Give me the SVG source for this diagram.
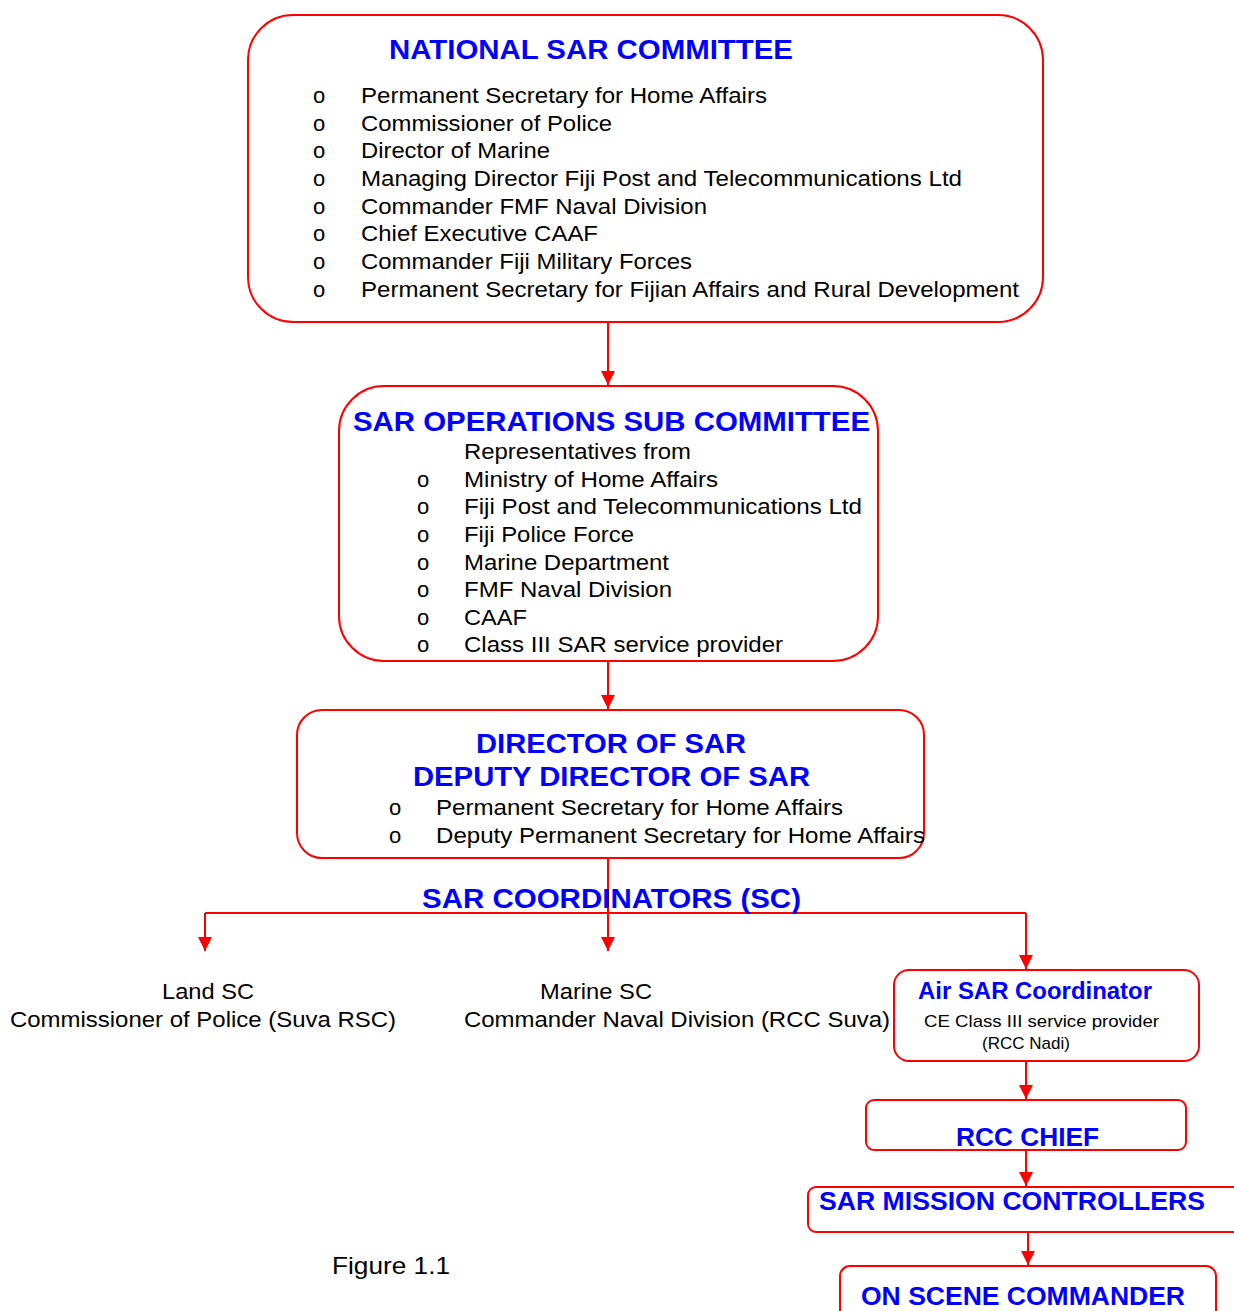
<svg xmlns="http://www.w3.org/2000/svg" width="1234" height="1311" viewBox="0 0 1234 1311">
<style>
.box{fill:#fff;stroke:#ff0000;stroke-width:2}
.ttl{font-family:"Liberation Sans",Arial,sans-serif;font-weight:bold;fill:#0000ff}
.txt{font-family:"Liberation Sans",Arial,sans-serif;fill:#000}
.con{stroke:#ff0000;stroke-width:2;fill:none}
</style>
<defs>
<marker id="ah" markerWidth="14" markerHeight="16" refX="14" refY="8" orient="auto" markerUnits="userSpaceOnUse">
<path d="M0,1 L14,8 L0,15 Z" fill="#ff0000"/>
</marker>
</defs>
<rect width="1234" height="1311" fill="#fff"/>

<g id="connectors">
<line class="con" x1="608" y1="322" x2="608" y2="385" marker-end="url(#ah)"/>
<line class="con" x1="608" y1="661" x2="608" y2="709" marker-end="url(#ah)"/>
<line class="con" x1="608" y1="858" x2="608" y2="913"/>
<line class="con" x1="205" y1="913" x2="1026" y2="913"/>
<line class="con" x1="205" y1="913" x2="205" y2="951" marker-end="url(#ah)"/>
<line class="con" x1="608" y1="913" x2="608" y2="951" marker-end="url(#ah)"/>
<line class="con" x1="1026" y1="913" x2="1026" y2="969" marker-end="url(#ah)"/>
<line class="con" x1="1026" y1="1061" x2="1026" y2="1099" marker-end="url(#ah)"/>
<line class="con" x1="1026" y1="1150" x2="1026" y2="1186" marker-end="url(#ah)"/>
<line class="con" x1="1028" y1="1232" x2="1028" y2="1265" marker-end="url(#ah)"/>
</g>

<g id="national">
<rect class="box" x="248" y="15" width="795" height="307" rx="45"/>
<text class="ttl" x="389" y="59" font-size="27" textLength="404" lengthAdjust="spacingAndGlyphs">NATIONAL SAR COMMITTEE</text>
<g class="txt" font-size="22">
<text x="313" y="103">o</text><text x="361" y="103" textLength="406" lengthAdjust="spacingAndGlyphs">Permanent Secretary for Home Affairs</text>
<text x="313" y="131">o</text><text x="361" y="131" textLength="251" lengthAdjust="spacingAndGlyphs">Commissioner of Police</text>
<text x="313" y="158">o</text><text x="361" y="158" textLength="189" lengthAdjust="spacingAndGlyphs">Director of Marine</text>
<text x="313" y="186">o</text><text x="361" y="186" textLength="601" lengthAdjust="spacingAndGlyphs">Managing Director Fiji Post and Telecommunications Ltd</text>
<text x="313" y="214">o</text><text x="361" y="214" textLength="346" lengthAdjust="spacingAndGlyphs">Commander FMF Naval Division</text>
<text x="313" y="241">o</text><text x="361" y="241" textLength="237" lengthAdjust="spacingAndGlyphs">Chief Executive CAAF</text>
<text x="313" y="269">o</text><text x="361" y="269" textLength="331" lengthAdjust="spacingAndGlyphs">Commander Fiji Military Forces</text>
<text x="313" y="297">o</text><text x="361" y="297" textLength="658" lengthAdjust="spacingAndGlyphs">Permanent Secretary for Fijian Affairs and Rural Development</text>
</g>
</g>

<g id="subcommittee">
<rect class="box" x="339" y="386" width="539" height="275" rx="45"/>
<text class="ttl" x="353" y="431" font-size="28" textLength="517" lengthAdjust="spacingAndGlyphs">SAR OPERATIONS SUB COMMITTEE</text>
<g class="txt" font-size="22">
<text x="464" y="459" textLength="227" lengthAdjust="spacingAndGlyphs">Representatives from</text>
<text x="417" y="487">o</text><text x="464" y="487" textLength="254" lengthAdjust="spacingAndGlyphs">Ministry of Home Affairs</text>
<text x="417" y="514">o</text><text x="464" y="514" textLength="398" lengthAdjust="spacingAndGlyphs">Fiji Post and Telecommunications Ltd</text>
<text x="417" y="542">o</text><text x="464" y="542" textLength="170" lengthAdjust="spacingAndGlyphs">Fiji Police Force</text>
<text x="417" y="570">o</text><text x="464" y="570" textLength="205" lengthAdjust="spacingAndGlyphs">Marine Department</text>
<text x="417" y="597">o</text><text x="464" y="597" textLength="208" lengthAdjust="spacingAndGlyphs">FMF Naval Division</text>
<text x="417" y="625">o</text><text x="464" y="625" textLength="63" lengthAdjust="spacingAndGlyphs">CAAF</text>
<text x="417" y="652">o</text><text x="464" y="652" textLength="319" lengthAdjust="spacingAndGlyphs">Class III SAR service provider</text>
</g>
</g>

<g id="director">
<rect class="box" x="297" y="710" width="627" height="148" rx="25"/>
<text class="ttl" x="476" y="753" font-size="27" textLength="270" lengthAdjust="spacingAndGlyphs">DIRECTOR OF SAR</text>
<text class="ttl" x="413" y="786" font-size="27" textLength="397" lengthAdjust="spacingAndGlyphs">DEPUTY DIRECTOR OF SAR</text>
<g class="txt" font-size="22">
<text x="389" y="815">o</text><text x="436" y="815" textLength="407" lengthAdjust="spacingAndGlyphs">Permanent Secretary for Home Affairs</text>
<text x="389" y="843">o</text><text x="436" y="843" textLength="489" lengthAdjust="spacingAndGlyphs">Deputy Permanent Secretary for Home Affairs</text>
</g>
</g>

<g id="coordinators">
<text class="ttl" x="422" y="908" font-size="27" textLength="379" lengthAdjust="spacingAndGlyphs">SAR COORDINATORS (SC)</text>
</g>

<g id="land-sc" class="txt" font-size="22">
<text x="162" y="999" textLength="92" lengthAdjust="spacingAndGlyphs">Land SC</text>
<text x="10" y="1027" textLength="386" lengthAdjust="spacingAndGlyphs">Commissioner of Police (Suva RSC)</text>
</g>

<g id="marine-sc" class="txt" font-size="22">
<text x="540" y="999" textLength="112" lengthAdjust="spacingAndGlyphs">Marine SC</text>
<text x="464" y="1027" textLength="426" lengthAdjust="spacingAndGlyphs">Commander Naval Division (RCC Suva)</text>
</g>

<g id="air-sc">
<rect class="box" x="894" y="970" width="305" height="91" rx="15"/>
<text class="ttl" x="918" y="999" font-size="23" textLength="234" lengthAdjust="spacingAndGlyphs">Air SAR Coordinator</text>
<text class="txt" x="924" y="1027" font-size="17" textLength="235" lengthAdjust="spacingAndGlyphs">CE Class III service provider</text>
<text class="txt" x="1026" y="1049" font-size="17" text-anchor="middle">(RCC Nadi)</text>
</g>

<g id="rcc-chief">
<rect class="box" x="866" y="1100" width="320" height="50" rx="8"/>
<text class="ttl" x="956" y="1146" font-size="25" textLength="143" lengthAdjust="spacingAndGlyphs">RCC CHIEF</text>
</g>

<g id="mission-controllers">
<rect class="box" x="808" y="1187" width="440" height="45" rx="8"/>
<text class="ttl" x="819" y="1210" font-size="25" textLength="386" lengthAdjust="spacingAndGlyphs">SAR MISSION CONTROLLERS</text>
</g>

<g id="on-scene">
<rect class="box" x="840" y="1266" width="376" height="70" rx="10"/>
<text class="ttl" x="861" y="1305" font-size="25" textLength="324" lengthAdjust="spacingAndGlyphs">ON SCENE COMMANDER</text>
</g>

<text class="txt" x="332" y="1274" font-size="24" textLength="118" lengthAdjust="spacingAndGlyphs">Figure 1.1</text>
</svg>
